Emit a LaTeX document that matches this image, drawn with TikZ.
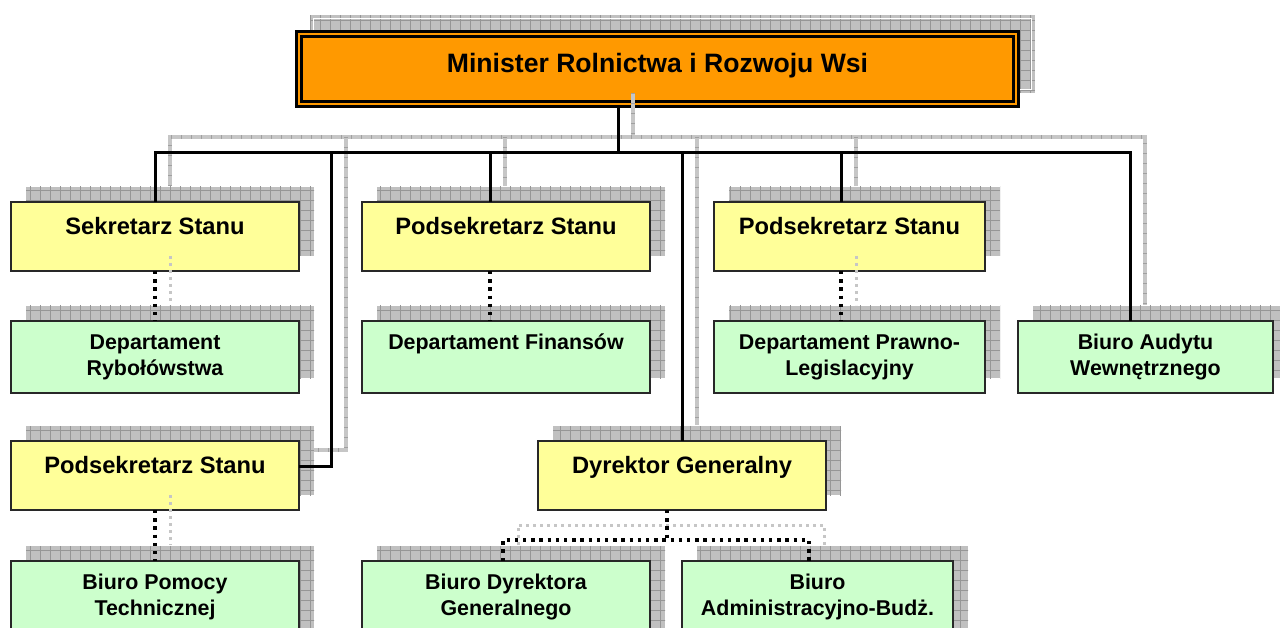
\documentclass[tikz,border=0pt]{standalone}
\usepackage{fontspec}
\setmainfont{Liberation Sans}
\definecolor{orng}{RGB}{255,153,0}
\definecolor{yel}{RGB}{255,255,153}
\definecolor{grn}{RGB}{204,255,204}
\definecolor{shfill}{RGB}{192,192,192}
\definecolor{shgrid}{RGB}{150,150,150}
\definecolor{shline}{RGB}{198,198,198}
\definecolor{shtick}{RGB}{160,160,160}
\definecolor{boxline}{RGB}{40,40,40}
\pgfdeclarelayer{bg}
\pgfsetlayers{bg,main}
\newcommand\gridshadow[1]{%
  \fill[shfill] ([shift={(15,-15)}]#1.south west) rectangle ([shift={(15,-15)}]#1.north east);
  \begin{scope}
    \clip ([shift={(15,-15)}]#1.south west) rectangle ([shift={(15,-15)}]#1.north east);
    \draw[shgrid, line width=0.8pt, step=10pt] ([shift={(0,20)}]#1.south west) grid ([shift={(30,-30)}]#1.north east);
  \end{scope}}
\tikzset{
  ybox/.style={draw=boxline, line width=1.4pt, fill=yel, inner sep=0pt, outer sep=0pt},
  gbox/.style={draw=boxline, line width=1.4pt, fill=grn, inner sep=0pt, outer sep=0pt},
  minbox/.style={draw=black, line width=2.8pt, double=orng, double distance=2pt, fill=orng,
    minimum width=717pt, minimum height=70pt, inner sep=0pt, outer sep=3.8pt},
  ytxt/.style={font=\fontsize{23.7pt}{28pt}\selectfont\bfseries, anchor=base, inner sep=0pt},
  gtxt/.style={font=\fontsize{21.4pt}{25.5pt}\selectfont\bfseries, align=center, anchor=base, inner sep=0pt},
  mtxt/.style={font=\fontsize{26.6pt}{30pt}\selectfont\bfseries, anchor=base, inner sep=0pt},
  conn/.style={draw=black, line width=3pt},
  dotc/.style={draw=black, line width=3.4pt, dash pattern=on 3.4pt off 4.8pt},
  shc/.style={draw=shline, line width=4pt, postaction={draw=shtick, line width=4pt, dash pattern=on 1pt off 9pt}},
  shdot/.style={draw=shline, line width=3pt, dash pattern=on 3pt off 4pt},
}
\begin{document}
\begin{tikzpicture}[x=1pt,y=-1pt]
\useasboundingbox (0,0) rectangle (1280,628);
% boxes
\node[minbox] (min) at (657.5,69) {};
\node[ybox, minimum width=288pt, minimum height=69pt] (sek) at (155,236.5) {};
\node[ybox, minimum width=288pt, minimum height=69pt] (p2) at (506,236.5) {};
\node[ybox, minimum width=271pt, minimum height=69pt] (p3) at (849.5,236.5) {};
\node[gbox, minimum width=288pt, minimum height=72pt] (dr) at (155,357) {};
\node[gbox, minimum width=288pt, minimum height=72pt] (df) at (506,357) {};
\node[gbox, minimum width=271pt, minimum height=72pt] (dp) at (849.5,357) {};
\node[gbox, minimum width=255pt, minimum height=72pt] (ba) at (1145.5,357) {};
\node[ybox, minimum width=288pt, minimum height=69pt] (p1) at (155,475.5) {};
\node[ybox, minimum width=288pt, minimum height=69pt] (dg) at (682,475.5) {};
\node[gbox, minimum width=288pt, minimum height=89pt] (bp) at (155,605.5) {};
\node[gbox, minimum width=288pt, minimum height=89pt] (bd) at (506,605.5) {};
\node[gbox, minimum width=271pt, minimum height=89pt] (bb) at (817.5,605.5) {};
% shadows
\begin{pgfonlayer}{bg}
\fill[white] (0,0) rectangle (1280,628);
\gridshadow{min}
\draw[white, line width=1pt] ([shift={(18.5,-18.5)}]min.south west) rectangle ([shift={(11.5,-11.5)}]min.north east);
\foreach \b in {sek,p2,p3,dr,df,dp,ba,p1,dg,bp,bd,bb}{\gridshadow{\b}}
\end{pgfonlayer}
% texts
\node[mtxt] (tmin) at (657.5,73) {Minister Rolnictwa i Rozwoju Wsi};
\node[ytxt] (tsek) at ([yshift=-32.3pt]sek.north) {Sekretarz Stanu};
\node[ytxt] (tp2) at ([yshift=-32.3pt]p2.north) {Podsekretarz Stanu};
\node[ytxt] (tp3) at ([yshift=-32.3pt]p3.north) {Podsekretarz Stanu};
\node[ytxt] (tp1) at ([yshift=-32.3pt]p1.north) {Podsekretarz Stanu};
\node[ytxt] (tdg) at ([yshift=-32.3pt]dg.north) {Dyrektor Generalny};
\node[gtxt] (tdf) at ([yshift=-28.5pt]df.north) {Departament Finansów};
\node[gtxt] (tdr) at ([yshift=-54pt]dr.north) {Departament\\Rybołówstwa};
\node[gtxt] (tdp) at ([yshift=-54pt]dp.north) {Departament Prawno-\\Legislacyjny};
\node[gtxt] (tba) at ([yshift=-54pt]ba.north) {Biuro Audytu\\Wewnętrznego};
\node[gtxt] (tbp) at ([yshift=-54pt]bp.north) {Biuro Pomocy\\Technicznej};
\node[gtxt] (tbd) at ([yshift=-54pt]bd.north) {Biuro Dyrektora\\Generalnego};
\node[gtxt] (tbb) at ([yshift=-54pt]bb.north) {Biuro\\Administracyjno-Budż.};
% junction coordinates
\coordinate (j0) at (618,153);
\coordinate (bl) at (155,153);
\coordinate (br) at (1130,153);
\coordinate (sj0) at (633,137);
\coordinate (sbl) at (170,137);
\coordinate (sbr) at (1145,137);
% shadow connectors
\draw[shc] (633,93) -- (sj0);
\draw[shc] (170,186) -- (sbl) -- (sbr) -- (1145,305);
\draw[shc] (346,137) -- (346,450) -- (314,450);
\draw[shc] (505,137) -- (505,186);
\draw[shc] (697,137) -- (697,425);
\draw[shc] (856,137) -- (856,186);
\draw[shdot] (170,256) -- (170,305);
\draw[shdot] (856,256) -- (856,305);
\draw[shdot] (170,495) -- (170,545);
\draw[shdot] (518,545) -- (518,525) -- (824,525) -- (824,545);
% solid connectors
\draw[conn] (618,0 |- min.south) -- (j0);
\draw[conn] (sek.north) -- (bl) -- (br) -- (ba.north -| br);
\draw[conn] (331,153) -- (331,466) -- (p1.east |- 0,466);
\draw[conn] (490,153) -- (490,0 |- p2.north);
\draw[conn] (682,153) -- (dg.north);
\draw[conn] (841,153) -- (841,0 |- p3.north);
% dotted connectors
\draw[dotc] (sek.south) -- (dr.north);
\draw[dotc] (490,0 |- p2.south) -- (490,0 |- df.north);
\draw[dotc] (841,0 |- p3.south) -- (841,0 |- dp.north);
\draw[dotc] (p1.south) -- (bp.north);
\draw[dotc] (667,0 |- dg.south) -- (667,540);
\draw[dotc] (503,0 |- bd.north) -- (503,540) -- (809,540) -- (809,0 |- bb.north);
\end{tikzpicture}
\end{document}
